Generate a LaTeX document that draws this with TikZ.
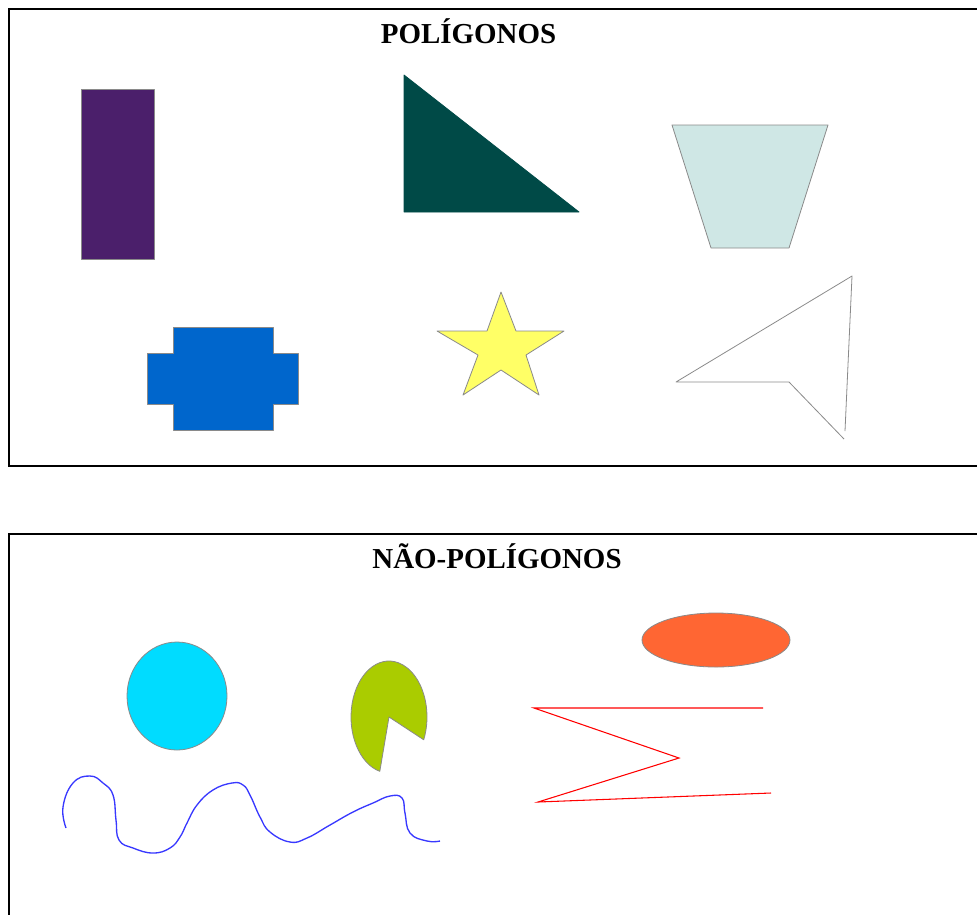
\documentclass[tikz,border=0pt]{standalone}
\usepackage{fontspec}
\setmainfont{Liberation Serif}
\usepackage{tikz}
\usetikzlibrary{positioning}
\definecolor{roxo}{HTML}{4B1F6B}
\definecolor{petroleo}{HTML}{004A47}
\definecolor{aguamar}{HTML}{CFE7E5}
\definecolor{azulcruz}{HTML}{0066CC}
\definecolor{estrela}{HTML}{FFFF66}
\definecolor{ciano}{HTML}{00DCFF}
\definecolor{limao}{HTML}{AACC00}
\definecolor{laranja}{HTML}{FF6633}
\definecolor{contorno}{HTML}{8A8A8A}
\definecolor{onda}{HTML}{3838FF}
\tikzset{
  quadro/.style={draw=black,line width=0.8pt},
  figura/.style={draw=contorno,line width=0.6pt,line join=round},
  titulo/.style={font=\fontsize{21.7}{24}\selectfont\bfseries,inner sep=0pt},
}

\begin{document}
\begin{tikzpicture}[x=0.75pt,y=-0.75pt]
  % pixel grid: x to the right, y downwards
  \useasboundingbox (0,0) rectangle (977,915);

  % Frames (cut off at the right and bottom edge)
  \draw[quadro](977,9)--(9,9)--(9,466)--(977,466);
  \draw[quadro](977,534)--(9,534)--(9,915);

  % Titles
  \node[titulo,anchor=base](titpoli)at(468.5,43){POLÍGONOS};
  \node[titulo,anchor=base](titnaopoli)at(497,568){NÃO-POLÍGONOS};

  % --- Polygons ---
  % rectangle
  \filldraw[figura,fill=roxo](81,89)rectangle(154,259);
  % right triangle
  \filldraw[figura,draw=petroleo,fill=petroleo](404,75)--(404,212)--(579,212)--cycle;
  % trapezium
  \filldraw[figura,fill=aguamar](672,125)--(828,125)--(789,248)--(711,248)--cycle;
  % cross-like polygon
  \filldraw[figura,fill=azulcruz](173,327)--(273,327)--(273,353)--(298,353)
    --(298,404)--(273,404)--(273,430)--(173,430)--(173,404)--(147,404)
    --(147,353)--(173,353)--cycle;
  % star
  \filldraw[figura,fill=estrela](501,292)--(516,331)--(564,331)--(526,355)
    --(539,395)--(501,370)--(463,395)--(478,355)--(437,331)--(487,331)--cycle;
  % concave outline
  \draw[figura](844,439)--(789,382)--(676,382)--(852,276)--(845,431);

  % --- Non-polygons ---
  % circle
  \filldraw[figura,fill=ciano](177,696)ellipse[x radius=50,y radius=54];
  % ellipse
  \filldraw[figura,fill=laranja](716,640)ellipse[x radius=74,y radius=27];
  % pie with a cut
  \filldraw[figura,fill=limao](389,717)--++(104:38 and 56)
    arc[start angle=104,end angle=384,x radius=38,y radius=56]--cycle;
  % zigzag
  \draw[red,line width=0.8pt](763,708)--(534,708)--(679,758)--(538,802)--(771,793);
  % curve
  \draw[onda,line width=1pt]plot[smooth,tension=0.75]coordinates{
    (66,828)(63,807)(73,783)(90,776)(103,783)(113,795)(116,820)(119,840)
    (133,848)(153,853)(170,848)(180,837)(187,823)(197,805)(213,790)
    (232,783)(243,785)(250,795)(260,817)(270,832)(290,842)(307,838)
    (330,825)(353,812)(373,803)(390,796)(402,798)(405,813)(410,833)
    (427,841)(440,841)};
\end{tikzpicture}
\end{document}
